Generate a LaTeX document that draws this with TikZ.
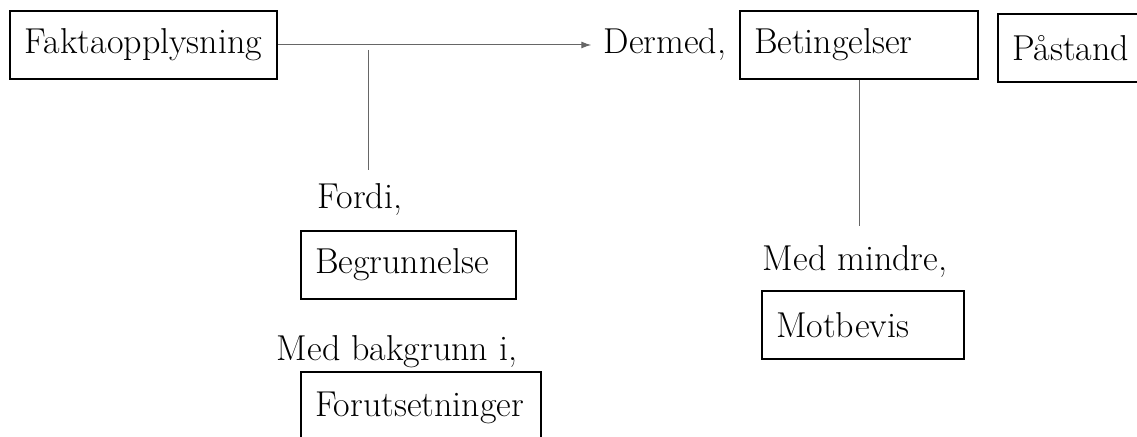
\documentclass[tikz,border=0pt]{standalone}
\usepackage{tikz}
\usetikzlibrary{positioning, arrows.meta}

\begin{document}
\begin{tikzpicture}[
        x=0.5pt, y=-0.5pt,
        every node/.style={
            font=\fontsize{18}{21}\selectfont,
            inner sep=0pt
        },
        box/.style={
            rectangle,
            draw,
            line width=1pt,
            anchor=north west,
            minimum height=34pt,
            inner xsep=7pt,
            align=left
        },
        word/.style={
            anchor=center
        },
        arrow/.style={
            -{Latex[length=5pt, width=3.5pt]},
            draw=black!60,
            line width=0.5pt
        },
        link/.style={
            draw=black!60,
            line width=0.5pt
        }
    ]

    \useasboundingbox (0,0) rectangle (1137,437);

    % Boksene

    \node[box, text width=119.5pt, align=center] (fakta) at (9,10)
    {Faktaopplysning};

    \node[box, text width=105pt] (beting) at (739,10)
    {Betingelser};

    \node[box, text width=90pt] (paastand) at (997,13)
    {Påstand};

    \node[box, text width=93.5pt, minimum height=34pt] (begrunnelse) at (300,230)
    {Begrunnelse};

    \node[box, text width=106pt, minimum height=36pt] (forutsetning) at (300,371)
    {Forutsetninger};

    \node[box, text width=87pt] (motbevis) at (761,290)
    {Motbevis};

    % Bindeord

    \node[word] (dermed) at (665,45) {Dermed,};
    \node[word] (fordi) at (360,200) {Fordi,};
    \node[word] (bakgrunn) at (397,352) {Med bakgrunn i,};
    \node[word] (mindre) at (855,262) {Med mindre,};

    \coordinate (fordiTopp) at (368,50);

    % Linjer

    \draw[arrow] (fakta.east) -- ([xshift=-6pt]dermed.west);
    \draw[link] (fordiTopp) -- ([yshift=7pt]fordiTopp |- fordi.north);
    \draw[link] (beting.south) -- ([yshift=10pt]beting.south |- mindre.north);

    \end{tikzpicture}
\end{document}
